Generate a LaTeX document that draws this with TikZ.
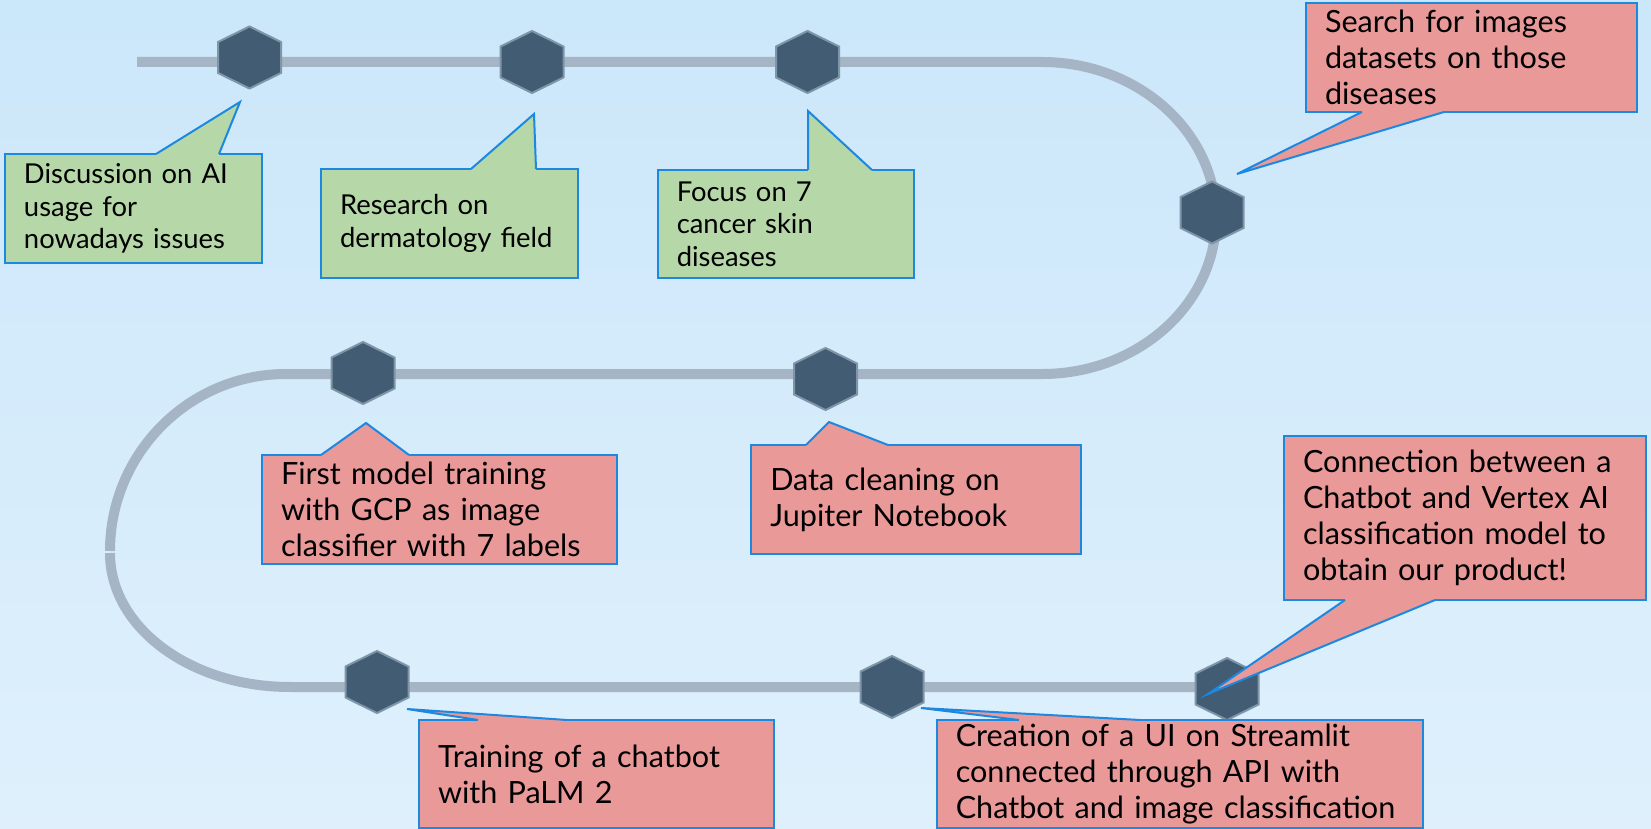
\documentclass[tikz,border=0pt]{standalone}
\usepackage{fontspec}
\setmainfont{Lato}
\usepackage{xcolor}
\usepackage{tikz}
\usetikzlibrary{calc}

\definecolor{bgtop}{HTML}{CBE7FA}
\definecolor{bgbot}{HTML}{DFF0FC}
\definecolor{trackgrey}{HTML}{A5B5C5}
\definecolor{hexfill}{HTML}{425C73}
\definecolor{hexedge}{HTML}{7F95A8}
\definecolor{notegreen}{HTML}{B6D7A8}
\definecolor{notered}{HTML}{EA9999}
\definecolor{calloutblue}{HTML}{1C88E0}

\tikzset{
	track/.style={draw=trackgrey, line width=5pt},
	hexmark/.pic={
		\draw[fill=hexfill, draw=hexedge, line width=1pt]
			(0,-31) -- (31.5,-15.5) -- (31.5,15.5) -- (0,31) -- (-31.5,15.5) -- (-31.5,-15.5) -- cycle;
	},
	note/.style={draw=calloutblue, line width=1pt, align=left, inner xsep=9.5pt, inner ysep=0pt},
	greennote/.style={note, fill=notegreen, font=\fontsize{13.7}{16.3}\selectfont},
	rednote/.style={note, fill=notered, font=\fontsize{15.3}{18}\selectfont},
	boxsize/.style 2 args={minimum width=#1*0.5pt, minimum height=#2*0.5pt, text width=\dimexpr #1pt/2-19pt\relax},
	pointer/.style={draw=calloutblue, line width=1pt},
}

% pointer of a callout: colour, base start, tip, base end, shift into the box
\newcommand{\notetip}[5]{%
	\fill[#1] ($#2+(0,#5)$) -- #2 -- #3 -- #4 -- ($#4+(0,#5)$) -- cycle;
	\draw[pointer] #2 -- #3 -- #4;}

\begin{document}
\begin{tikzpicture}[x=0.5pt, y=-0.5pt]
		%----------------------------------------------------
		% Background
		%----------------------------------------------------
		\useasboundingbox (0,0) rectangle (1651,829);
		\shade[top color=bgtop, bottom color=bgbot] (0,0) rectangle (1651,829);

		%----------------------------------------------------
		% The track
		%----------------------------------------------------
		\draw[track] (137,62) -- (1042,62)
			.. controls (1138,62) and (1216,131.8) .. (1216,218)
			.. controls (1216,304.2) and (1138,374) .. (1042,374)
			-- (286,374)
			.. controls (188.8,374) and (110,453.7) .. (110,551);
		\draw[track] (110,553) .. controls (110,627.6) and (190.6,687) .. (290,687) -- (1227,687);

		%----------------------------------------------------
		% Milestones
		%----------------------------------------------------
		\coordinate (M1) at (249.5,57.5);
		\coordinate (M2) at (532,62);
		\coordinate (M3) at (807.5,62);
		\coordinate (M4) at (1212,212.5);
		\coordinate (M5) at (825.5,379);
		\coordinate (M6) at (363,373);
		\coordinate (M7) at (377,682);
		\coordinate (M8) at (892,687);
		\coordinate (M9) at (1227,689);
		\foreach \m in {M1,M2,M3,M4,M5,M6,M7,M8,M9}
			\pic at (\m) {hexmark};

		%----------------------------------------------------
		% Tips of the callouts
		%----------------------------------------------------
		\coordinate (tipA) at (240,102);
		\coordinate (tipB) at (534,114);
		\coordinate (tipC) at (808,111);
		\coordinate (tipD) at (1237,174);
		\coordinate (tipE) at (366,423);
		\coordinate (tipF) at (829,422);
		\coordinate (tipG) at (1208,694);
		\coordinate (tipH) at (407,709);
		\coordinate (tipI) at (921,708);

		%----------------------------------------------------
		% Green callouts
		%----------------------------------------------------
		\node[greennote, boxsize={257}{109}] (discuss) at (133.5,208.5)
			{Discussion on AI\\usage for\\nowadays issues};
		\notetip{notegreen}{(156,154)}{(tipA)}{(219,154)}{2}

		\node[greennote, boxsize={257}{109}] (research) at (449.5,223.5)
			{Research on\\dermatology field};
		\notetip{notegreen}{(471,169)}{(tipB)}{(536,169)}{2}

		\node[greennote, boxsize={256.5}{108}] (focus) at (786,224)
			{Focus on 7\\cancer skin\\diseases};
		\notetip{notegreen}{(808,170)}{(tipC)}{(872,170)}{2}

		%----------------------------------------------------
		% Red callouts
		%----------------------------------------------------
		\node[rednote, boxsize={331}{109}] (search) at (1471.5,57.5)
			{Search for images\\datasets on those\\diseases};
		\notetip{notered}{(1362,112)}{(tipD)}{(1444,112)}{-2}

		\node[rednote, boxsize={355}{109}] (firstmodel) at (439.5,509.5)
			{First model training\\with GCP as image\\classifier with 7 labels};
		\notetip{notered}{(321,455)}{(tipE)}{(409,455)}{2}

		\node[rednote, boxsize={329.5}{109}] (cleaning) at (916,499.5)
			{Data cleaning on\\Jupiter Notebook};
		\notetip{notered}{(806,445)}{(tipF)}{(888,445)}{2}

		\node[rednote, boxsize={362}{164}] (connect) at (1465,518)
			{Connection between a\\Chatbot and Vertex AI\\classification model to\\obtain our product!};
		\notetip{notered}{(1345,600)}{(tipG)}{(1435,600)}{-2}

		\node[rednote, boxsize={355}{108}] (chatbot) at (596.5,774)
			{Training of a chatbot\\with PaLM 2};
		\notetip{notered}{(478,720)}{(tipH)}{(567,720)}{2}

		\node[rednote, boxsize={486.5}{108}] (streamlit) at (1180,774)
			{Creation of a UI on Streamlit\\connected through API with\\Chatbot and image classification};
		\notetip{notered}{(1019,720)}{(tipI)}{(1140,720)}{2}

	\end{tikzpicture}
\end{document}
